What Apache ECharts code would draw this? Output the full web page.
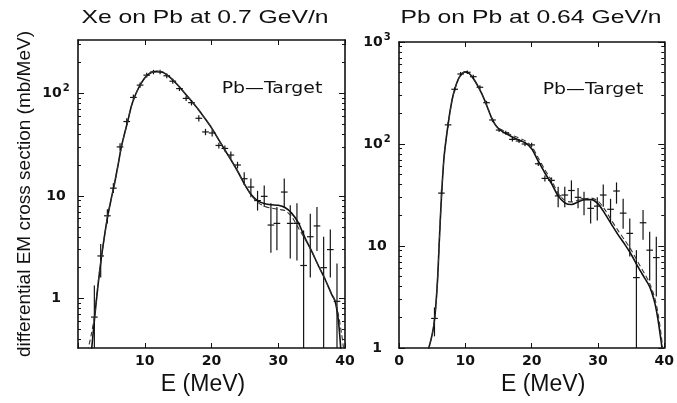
<!DOCTYPE html>
<html>
<head>
<meta charset="utf-8">
<script src="https://cdn.jsdelivr.net/npm/echarts@6/dist/echarts.min.js"></script>
<style>
  html, body { margin: 0; padding: 0; background: #fff; }
  #chart { width: 677px; height: 403px; }
</style>
</head>
<body>
<div id="chart"></div>
<script>
// Xe on Pb (left panel) - measured points
var xeE   = [2.45, 3.4, 4.4, 5.3, 6.3, 7.3, 8.3, 9.3, 10.3, 11.3, 12.3, 13.3, 14.2, 15.2, 16.2, 17.0, 18.1, 19.1, 20.1, 21.1, 22.0, 22.9, 23.9, 24.9, 25.9, 26.9, 27.9, 28.9, 29.8, 30.9, 31.8, 32.8, 33.8, 34.8, 35.8, 36.8, 37.8, 38.8];
var xeVal = [0.66, 2.6, 6.4, 11.9, 30, 53, 91, 120, 150, 161, 161, 148, 131, 111, 89, 81, 57, 42, 41, 31, 29, 25, 20, 14.7, 12.2, 9.0, 9.9, 5.2, 5.4, 10.9, 5.4, 5.4, 2.1, 4.0, 5.1, 2.0, 3.0, 0.94];
var xeLo  = [0.1, 1.6, 5.4, 10.7, 27.5, 49, 85, 113, 142, 153, 153, 140, 124, 105, 84, 76, 53, 39, 38, 29, 27, 23, 18.5, 12.8, 9.7, 7.2, 7.8, 2.8, 2.95, 7.8, 2.45, 2.35, 0.1, 1.6, 2.9, 0.1, 1.6, 0.1];
var xeHi  = [1.34, 3.4, 7.4, 13.3, 32.5, 57, 97, 127, 158, 169, 169, 156, 138, 117, 94, 86, 61, 45, 44, 33, 31, 27, 21.5, 17, 14.8, 11.2, 12.6, 8.5, 7.8, 14.8, 8.1, 8.5, 4.6, 6.7, 7.8, 4.0, 4.7, 2.2];

// Xe on Pb - calculations (solid and dashed)
var xeFitE    = [2.0, 2.5, 3.0, 3.5, 4.0, 4.5, 5.0, 5.5, 6.0, 6.5, 7.0, 7.5, 8.0, 8.5, 9.0, 9.5, 10.0, 10.5, 11.0, 11.8, 12.5, 13.0, 14.0, 15.0, 16.0, 17.0, 18.0, 19.0, 20.0, 21.0, 22.0, 23.0, 24.0, 25.0, 26.0, 27.0, 28.0, 29.0, 30.0, 31.0, 32.0, 33.0, 34.0, 35.0, 36.0, 37.0, 38.0, 38.5, 39.0, 39.4];
var xeFit     = [0.3, 0.66, 1.35, 2.5, 4.2, 6.6, 9.5, 13.5, 20, 30, 41, 55, 75, 93, 110, 126, 141, 152, 159, 164, 161, 156, 139, 119, 100, 84, 70, 57, 46, 36, 28, 22, 17, 12.8, 10.2, 8.9, 8.4, 8.2, 8.1, 7.7, 6.8, 5.5, 3.9, 2.9, 2.1, 1.55, 1.1, 0.95, 0.62, 0.3];
var xeDashE   = [1.4, 2.0, 2.5, 3.0, 3.5, 4.0, 4.5, 5.0, 5.5, 6.0, 6.5, 7.0, 7.5, 8.0, 8.5, 9.0, 9.5, 10.0, 10.5, 11.0, 11.8, 12.5, 13.0, 14.0, 15.0, 16.0, 17.0, 18.0, 19.0, 20.0, 21.0, 22.0, 23.0, 24.0, 25.0, 26.0, 27.0, 28.0, 29.0, 30.0, 31.0, 32.0, 33.0, 34.0, 35.0, 36.0, 37.0, 38.0, 38.5, 39.0, 39.5, 39.8];
var xeDash    = [0.3, 0.45, 0.7, 1.4, 2.5, 4.2, 6.6, 9.5, 13.5, 20, 30, 41, 55, 75, 93, 110, 126, 141, 152, 159, 164, 161, 156, 139, 119, 100, 84, 70, 57, 46, 36, 28, 22, 17, 12.8, 10.0, 8.6, 7.9, 7.6, 7.4, 7.2, 6.3, 4.9, 3.8, 2.9, 2.1, 1.55, 1.1, 0.95, 0.7, 0.45, 0.32];

// Pb on Pb (right panel) - measured points
var pbE   = [5.35, 6.4, 7.4, 8.4, 9.3, 10.3, 11.2, 12.2, 13.2, 14.1, 15.1, 16.1, 17.1, 18.1, 19.0, 20.0, 21.0, 22.0, 23.0, 24.0, 25.0, 26.0, 27.0, 27.9, 28.9, 29.9, 30.8, 31.9, 32.8, 33.8, 34.8, 35.8, 36.8, 37.8, 38.8];
var pbVal = [1.95, 33, 154, 344, 486, 505, 457, 360, 254, 172, 137, 129, 111, 107, 100, 98, 64, 46, 44, 31, 31.6, 35, 30, 29, 23.4, 24.6, 31.6, 22.9, 34.6, 21, 13.3, 4.9, 16.9, 9.1, 7.7];
var pbLo  = [1.3, 30, 145, 328, 465, 485, 437, 344, 243, 164, 131, 123, 106, 102, 95, 93, 61, 43, 41, 24, 24, 27, 23.5, 20, 16.6, 17.8, 24.3, 16.6, 26, 14.8, 7.9, 0.5, 11.5, 4.6, 3.2];
var pbHi  = [2.5, 36, 163, 360, 507, 525, 477, 376, 265, 180, 143, 135, 116, 112, 105, 103, 67, 49, 47, 38, 38, 44, 37, 34, 28, 30, 40, 29, 42, 29, 18.6, 9.1, 22.5, 13.8, 12.3];

// Pb on Pb - calculations (solid and dashed)
var pbFitE  = [4.4, 5.0, 5.4, 5.8, 6.1, 6.4, 6.8, 7.4, 8.0, 8.5, 9.0, 9.5, 10.0, 10.5, 11.0, 11.5, 12.0, 12.5, 13.0, 13.5, 14.0, 14.5, 15.0, 15.5, 16.0, 17.0, 18.0, 19.0, 20.0, 21.0, 22.0, 23.0, 24.0, 25.0, 26.0, 27.0, 28.0, 29.0, 30.0, 31.0, 32.0, 33.0, 34.0, 35.0, 36.0, 37.0, 37.8, 38.5, 39.0, 39.5, 39.7];
var pbFit   = [0.95, 1.35, 2.0, 4.5, 12, 30, 75, 155, 270, 360, 440, 490, 510, 495, 460, 410, 360, 310, 260, 215, 178, 155, 142, 134, 128, 118, 110, 103, 90, 68, 52, 41, 31, 26.5, 25.5, 27, 28.5, 28.5, 26, 21, 16.5, 13, 10.5, 8.3, 6.3, 4.9, 4.0, 2.9, 2.0, 1.2, 0.95];
var pbDashE = [4.4, 5.0, 5.4, 5.8, 6.1, 6.4, 6.8, 7.4, 8.0, 8.5, 9.0, 9.5, 10.0, 10.5, 11.0, 11.5, 12.0, 12.5, 13.0, 13.5, 14.0, 14.5, 15.0, 15.5, 16.0, 17.0, 18.0, 19.0, 20.0, 21.0, 22.0, 23.0, 24.0, 25.0, 26.0, 27.0, 28.0, 29.0, 30.0, 31.0, 32.0, 33.0, 34.0, 35.0, 36.0, 37.0, 37.8, 38.5, 39.0, 39.5, 39.8];
var pbDash  = [0.95, 1.35, 2.0, 4.5, 12, 30, 75, 155, 270, 360, 440, 490, 510, 495, 460, 410, 360, 310, 260, 215, 178, 156, 144, 137, 132, 122, 115, 108, 95, 73, 56, 44, 33, 28, 27, 28, 29, 29.5, 27.5, 23, 18, 14.3, 11.5, 9.2, 7.0, 5.4, 4.3, 3.2, 2.3, 1.4, 0.95];

// axis ticks
var xTicks      = [0, 10, 20, 30, 40];
var xeMajor     = [1, 10, 100];
var xeMinor     = [0.4, 0.5, 0.6, 0.7, 0.8, 0.9, 2, 3, 4, 5, 6, 7, 8, 9, 20, 30, 40, 50, 60, 70, 80, 90, 200, 300];
var pbMajor     = [1, 10, 100, 1000];
var pbMinor     = [2, 3, 4, 5, 6, 7, 8, 9, 20, 30, 40, 50, 60, 70, 80, 90, 200, 300, 400, 500, 600, 700, 800, 900];

var INK = '#111';
var TICK_FONT = 'DejaVu Sans';

function zip(xs, ys) {
  return xs.map(function (x, i) { return [x, ys[i]]; });
}

function errData(e, v, lo, hi) {
  return e.map(function (x, i) { return [x, v[i], lo[i], hi[i]]; });
}

function logLabel(val) {
  var p = Math.round(Math.log(val) / Math.LN10);
  if (p < 2) return String(Math.round(val));
  return '{b|10}{s|' + p + '}';
}

// a cross: energy bin +-0.5 MeV, vertical error bar
function renderCross(params, api) {
  var e = api.value(0), v = api.value(1), lo = api.value(2), hi = api.value(3);
  var cs = params.coordSys;
  var l = api.coord([e - 0.5, v]);
  var r = api.coord([e + 0.5, v]);
  var b = api.coord([e, lo]);
  var t = api.coord([e, hi]);
  var yb = Math.min(b[1], cs.y + cs.height);
  var style = { stroke: '#141414', lineWidth: 1.2 };
  return {
    type: 'group',
    children: [
      { type: 'line', shape: { x1: l[0], y1: l[1], x2: r[0], y2: r[1] }, style: style },
      { type: 'line', shape: { x1: t[0], y1: t[1], x2: b[0], y2: yb }, style: style }
    ]
  };
}

function xAxisCfg(grid, pos, showLabel, hideZero, name, pad) {
  return {
    type: 'value', gridIndex: grid, position: pos,
    min: 0, max: 40, interval: 10,
    axisLine: { show: true, onZero: false, lineStyle: { color: INK, width: 1.6 } },
    axisTick: { show: true, inside: true, length: 5, lineStyle: { color: INK, width: 1 } },
    axisLabel: {
      show: showLabel, margin: 6, color: '#111',
      fontFamily: TICK_FONT, fontWeight: 'bold', fontSize: 14,
      formatter: function (v) { return (hideZero && v === 0) ? '' : String(v); }
    },
    splitLine: { show: false },
    name: name, nameLocation: 'middle', nameGap: 18,
    nameTextStyle: { fontFamily: 'Liberation Sans', fontSize: 23, color: '#111', padding: pad }
  };
}

function yAxisCfg(grid, pos, min, max, ticks, len, line, labels, name) {
  var cfg = {
    type: 'log', logBase: 10, gridIndex: grid, position: pos,
    min: min, max: max,
    axisLine: { show: line, lineStyle: { color: INK, width: 1.6 } },
    axisTick: { show: true, inside: true, length: len, customValues: ticks, lineStyle: { color: INK, width: 1 } },
    axisLabel: { show: false },
    splitLine: { show: false },
    minorTick: { show: false }
  };
  if (labels) {
    cfg.axisLabel = {
      show: true, customValues: labels, align: 'center', margin: 22,
      color: '#111', fontFamily: TICK_FONT, fontWeight: 'bold', fontSize: 14,
      formatter: logLabel,
      rich: {
        b: { fontFamily: TICK_FONT, fontWeight: 'bold', fontSize: 14, color: '#111' },
        s: { fontFamily: TICK_FONT, fontWeight: 'bold', fontSize: 10, color: '#111', padding: [0, 0, 9, 1] }
      }
    };
  }
  if (name) {
    cfg.name = name;
    cfg.nameLocation = 'middle';
    cfg.nameRotate = 90;
    cfg.nameGap = 44;
    cfg.nameTextStyle = { fontFamily: 'Liberation Sans', fontSize: 19, color: '#111' };
  }
  return cfg;
}

function headText(x, y, text) {
  return {
    type: 'text', x: x, y: y, scaleX: 1.3,
    style: { text: text, font: '19px "Liberation Sans"', fill: '#111', align: 'center', verticalAlign: 'middle' }
  };
}

function targetText(x, y) {
  return {
    type: 'text', x: x, y: y, scaleX: 1.18,
    style: { text: 'Pb\u2014Target', font: '16px "DejaVu Sans"', fill: '#111', align: 'center', verticalAlign: 'middle' }
  };
}

var chart = echarts.init(document.getElementById('chart'), null, { renderer: 'canvas' });

var option = {
  animation: false,
  backgroundColor: '#fff',
  grid: [
    { left: 78, top: 40, width: 267, height: 308 },
    { left: 399, top: 42, width: 267, height: 306 }
  ],
  xAxis: [
    xAxisCfg(0, 'bottom', true, true, 'E (MeV)', [0, 17, 0, 0]),
    xAxisCfg(0, 'top', false, false, '', 0),
    xAxisCfg(1, 'bottom', true, false, 'E (MeV)', [0, 0, 0, 23]),
    xAxisCfg(1, 'top', false, false, '', 0)
  ],
  yAxis: [
    yAxisCfg(0, 'left', 0.33, 330, xeMajor, 6, true, xeMajor, 'differential EM cross section (mb/MeV)'),
    yAxisCfg(0, 'left', 0.33, 330, xeMinor, 3, false, null, null),
    yAxisCfg(0, 'right', 0.33, 330, xeMajor, 6, true, null, null),
    yAxisCfg(0, 'right', 0.33, 330, xeMinor, 3, false, null, null),
    yAxisCfg(1, 'left', 1, 1000, pbMajor, 6, true, pbMajor, null),
    yAxisCfg(1, 'left', 1, 1000, pbMinor, 3, false, null, null),
    yAxisCfg(1, 'right', 1, 1000, pbMajor, 6, true, null, null),
    yAxisCfg(1, 'right', 1, 1000, pbMinor, 3, false, null, null)
  ],
  series: [
    {
      type: 'line', xAxisIndex: 0, yAxisIndex: 0, data: zip(xeFitE, xeFit),
      showSymbol: false, smooth: 0.3, clip: true,
      lineStyle: { color: INK, width: 1.6 }
    },
    {
      type: 'line', xAxisIndex: 0, yAxisIndex: 0, data: zip(xeDashE, xeDash),
      showSymbol: false, smooth: 0.3, clip: true,
      lineStyle: { color: '#333', width: 1.1, type: [5, 3] }
    },
    {
      type: 'custom', xAxisIndex: 0, yAxisIndex: 0, clip: true,
      data: errData(xeE, xeVal, xeLo, xeHi), renderItem: renderCross
    },
    {
      type: 'line', xAxisIndex: 2, yAxisIndex: 4, data: zip(pbFitE, pbFit),
      showSymbol: false, smooth: 0.3, clip: true,
      lineStyle: { color: INK, width: 1.6 }
    },
    {
      type: 'line', xAxisIndex: 2, yAxisIndex: 4, data: zip(pbDashE, pbDash),
      showSymbol: false, smooth: 0.3, clip: true,
      lineStyle: { color: '#333', width: 1.1, type: [5, 3] }
    },
    {
      type: 'custom', xAxisIndex: 2, yAxisIndex: 4, clip: true,
      data: errData(pbE, pbVal, pbLo, pbHi), renderItem: renderCross
    }
  ],
  graphic: [
    headText(205, 18, 'Xe on Pb at 0.7 GeV/n'),
    headText(531, 18, 'Pb on Pb at 0.64 GeV/n'),
    targetText(272, 89),
    targetText(593, 90)
  ]
};

chart.setOption(option);
</script>
</body>
</html>
